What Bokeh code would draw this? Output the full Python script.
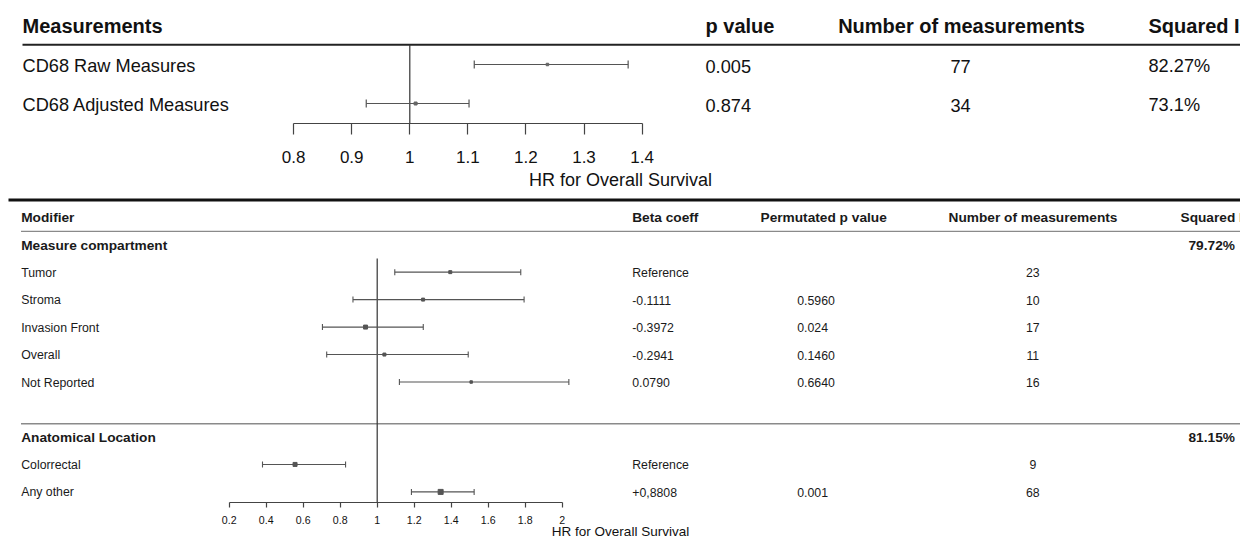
from bokeh.plotting import figure
from bokeh.models import (Range1d, FixedTicker, CustomJSTickFormatter,
                          ColumnDataSource)
from bokeh.layouts import column
from bokeh.embed import file_html
from bokeh.resources import INLINE
from bokeh.core.properties import value

# ---------------- data : pooled estimates (top panel) ----------------
top_headers = ["Measurements", "p value", "Number of measurements", "Squared I²"]
top_labels = ["CD68 Raw Measures", "CD68 Adjusted Measures"]
top_hr = [1.237, 1.010]
top_lo = [1.111, 0.925]
top_hi = [1.376, 1.102]
top_p = ["0.005", "0.874"]
top_n = [77, 34]
top_i2 = ["82.27%", "73.1%"]
top_ticks = [0.8, 0.9, 1.0, 1.1, 1.2, 1.3, 1.4]

# ---------------- data : meta-regression (bottom panel) ----------------
bottom_headers = ["Modifier", "Beta coeff", "Permutated p value",
                  "Number of measurements", "Squared I²"]
group_names = ["Measure compartment", "Anatomical Location"]
group_i2 = ["79.72%", "81.15%"]
mod_labels = ["Tumor", "Stroma", "Invasion Front", "Overall", "Not Reported",
              "Colorrectal", "Any other"]
mod_group = [0, 0, 0, 0, 0, 1, 1]
mod_hr = [1.395, 1.248, 0.937, 1.039, 1.508, 0.556, 1.343]
mod_lo = [1.095, 0.869, 0.704, 0.727, 1.120, 0.380, 1.185]
mod_hi = [1.776, 1.794, 1.249, 1.492, 2.036, 0.829, 1.524]
mod_beta = ["Reference", "-0.1111", "-0.3972", "-0.2941", "0.0790",
            "Reference", "+0,8808"]
mod_perm_p = ["", "0.5960", "0.024", "0.1460", "0.6640", "", "0.001"]
mod_n = [23, 10, 17, 11, 16, 9, 68]
bottom_ticks = [0.2, 0.4, 0.6, 0.8, 1.0, 1.2, 1.4, 1.6, 1.8, 2.0]
axis_title = "HR for Overall Survival"

# ---------------- style / layout ----------------
FONT_NAME = "Liberation Sans"
FONT = value(FONT_NAME)
W = 1240
X0 = 0                      # page offset of the figures
TOP_H, TOP_FRAME_TOP, TOP_FRAME_BOT = 196, 0, 123
BOT_H, BOT_FRAME_TOP, BOT_FRAME_BOT = 345, 196, 502
LINE_C = "#555555"
REF_C = "#333333"
TXT_C = "#111111"
top_box_px = [2.5, 3]
mod_box_px = [3, 3, 4, 3, 2.5, 4, 5]


def hr_range(one_at_px, px_per_unit):
    s = 1 - (one_at_px - X0) / px_per_unit
    return Range1d(s, s + W / px_per_unit)


def base_fig(h, xr, frame_top, frame_bot, min_bottom):
    p = figure(width=W, height=h, x_range=xr, y_range=Range1d(frame_bot, frame_top),
               extra_x_ranges={"px": Range1d(X0, X0 + W)},
               toolbar_location=None, output_backend="svg", title=None,
               y_axis_location=None, min_border=0, min_border_bottom=min_bottom)
    p.grid.visible = False
    p.outline_line_color = None
    p.background_fill_color = "white"
    p.border_fill_color = "white"
    return p


def style_axis(ax, ticks, tick_out, standoff, font_size):
    ax.ticker = FixedTicker(ticks=ticks)
    ax.bounds = (ticks[0], ticks[-1])
    ax.formatter = CustomJSTickFormatter(code="return String(Math.round(tick*10)/10);")
    ax.major_tick_out = tick_out
    ax.major_tick_in = 0
    ax.minor_tick_line_color = None
    ax.axis_line_color = "#444444"
    ax.major_tick_line_color = "#444444"
    ax.axis_line_width = 1.2
    ax.major_tick_line_width = 1.2
    ax.major_label_standoff = standoff
    ax.major_label_text_font = FONT_NAME
    ax.major_label_text_font_size = font_size
    ax.major_label_text_color = TXT_C
    ax.axis_label = axis_title
    ax.axis_label_text_font = FONT_NAME
    ax.axis_label_text_font_style = "normal"
    ax.axis_label_text_color = TXT_C


def caps(lo, hi, ys, half):
    return dict(x=lo + hi, y0=[y - half for y in ys] * 2, y1=[y + half for y in ys] * 2)


# =============================== TOP =================================
top = base_fig(TOP_H, hr_range(409.3, 580.7), TOP_FRAME_TOP, TOP_FRAME_BOT,
               TOP_H - (TOP_FRAME_BOT - TOP_FRAME_TOP))
HDR_Y = 25.5
HDR_LINE_Y = 44.3
top_y = [64 + 39 * i for i in range(len(top_labels))]
top_ty = [y + 1.5 for y in top_y]

# header rule
top.segment(x0=[22], x1=[X0 + W], y0=[HDR_LINE_Y], y1=[HDR_LINE_Y], x_range_name="px",
            line_color="#222222", line_width=2)
# null line
top.segment(x0=[1], x1=[1], y0=[HDR_LINE_Y], y1=[TOP_FRAME_BOT], line_color=REF_C,
            line_width=1.2)
# confidence intervals
tsrc = ColumnDataSource(dict(y=top_y, hr=top_hr, lo=top_lo, hi=top_hi, s=top_box_px))
top.segment(x0="lo", x1="hi", y0="y", y1="y", source=tsrc, line_color=LINE_C, line_width=1.2)
c = caps(top_lo, top_hi, top_y, 4)
top.segment(x0=c["x"], x1=c["x"], y0=c["y0"], y1=c["y1"], line_color=LINE_C, line_width=1.2)
top.scatter(x="hr", y="y", size="s", marker="square", source=tsrc,
            fill_color="#666666", line_color="#666666")

hdr_x = [22, 705, 961, 1148]
hdr_align = ["left", "left", "center", "left"]
for hx, ht, ha in zip(hdr_x, top_headers, hdr_align):
    top.text(x=[hx], y=[HDR_Y], text=[ht], x_range_name="px", text_font=FONT,
             text_font_size="20px", text_font_style="bold", text_align=ha,
             text_baseline="middle", text_color=TXT_C)
cols = [(22, top_labels, "left"), (705, top_p, "left"),
        (960, [str(n) for n in top_n], "center"), (1148, top_i2, "left")]
for cx, vals, ca in cols:
    top.text(x=[cx] * len(vals), y=top_ty, text=vals, x_range_name="px", text_font=FONT,
             text_font_size="18.2px", text_align=ca, text_baseline="middle",
             text_color=TXT_C)

ax = top.xaxis[0]
style_axis(ax, top_ticks, 11, 16, "17px")
ax.axis_label_text_font_size = "18px"
ax.axis_label_standoff = 4

# ============================== BOTTOM ===============================
bot = base_fig(BOT_H, hr_range(376.7, 185.0), BOT_FRAME_TOP, BOT_FRAME_BOT, 30)
BASE_Y, STEP = 217.2, 27.47


def ry(r):
    return BASE_Y + STEP * r


group_row, item_row = [], []
r = 1
for g in range(len(group_names)):
    group_row.append(r)
    r += 1
    for gg in mod_group:
        if gg == g:
            item_row.append(r)
            r += 1
    r += 1

item_ty = [ry(k) for k in item_row]
item_y = [y - 0.5 for y in item_ty]
group_y = [ry(k) for k in group_row]

# thick rule between the panels
bot.segment(x0=[8], x1=[X0 + W], y0=[199.5], y1=[199.5], x_range_name="px",
            line_color="#111111", line_width=3)
# rule under the header and between groups
rule_y = [ry(0) + STEP / 2] + [y - STEP / 2 for y in group_y[1:]]
bot.segment(x0=[20.5] * len(rule_y), x1=[X0 + W] * len(rule_y), y0=rule_y, y1=rule_y,
            x_range_name="px", line_color="#8a8a8a", line_width=1.3)
# null line
bot.segment(x0=[1], x1=[1], y0=[item_y[0] - STEP / 2], y1=[BOT_FRAME_BOT],
            line_color=REF_C, line_width=1.2)
# confidence intervals
bsrc = ColumnDataSource(dict(y=item_y, hr=mod_hr, lo=mod_lo, hi=mod_hi, s=mod_box_px))
bot.segment(x0="lo", x1="hi", y0="y", y1="y", source=bsrc, line_color=LINE_C, line_width=1.1)
c = caps(mod_lo, mod_hi, item_y, 3)
bot.segment(x0=c["x"], x1=c["x"], y0=c["y0"], y1=c["y1"], line_color=LINE_C, line_width=1.1)
bot.scatter(x="hr", y="y", size="s", marker="square", source=bsrc,
            fill_color="#555555", line_color="#555555")

BTXT = "#1a1a1a"
bh_x = [20.7, 631.7, 760, 1032.5, 1180]
bh_align = ["left", "left", "left", "center", "left"]
for hx, ht, ha in zip(bh_x, bottom_headers, bh_align):
    bot.text(x=[hx], y=[ry(0)], text=[ht], x_range_name="px", text_font=FONT,
             text_font_size="13.7px", text_font_style="bold", text_align=ha,
             text_baseline="middle", text_color=BTXT)
bot.text(x=[20.7] * len(group_names), y=group_y, text=group_names, x_range_name="px",
         text_font=FONT, text_font_size="13.7px", text_font_style="bold",
         text_baseline="middle", text_color=BTXT)
bot.text(x=[1188] * len(group_i2), y=group_y, text=group_i2, x_range_name="px",
         text_font=FONT, text_font_size="13.7px", text_font_style="bold",
         text_baseline="middle", text_color=BTXT)
bcols = [(20.7, mod_labels, "left"), (631.7, mod_beta, "left"),
         (796.7, mod_perm_p, "left"), (1032.3, [str(n) for n in mod_n], "center")]
for cx, vals, ca in bcols:
    bot.text(x=[cx] * len(vals), y=item_ty, text=vals, x_range_name="px", text_font=FONT,
             text_font_size="12.3px", text_align=ca, text_baseline="middle",
             text_color=BTXT)

bax = bot.xaxis[0]
style_axis(bax, bottom_ticks, 5, 8, "10.6px")
bax.axis_label_text_font_size = "13.5px"
bax.axis_label_standoff = -3

layout = column(top, bot)
open("out.html", "w").write(file_html(layout, INLINE))
